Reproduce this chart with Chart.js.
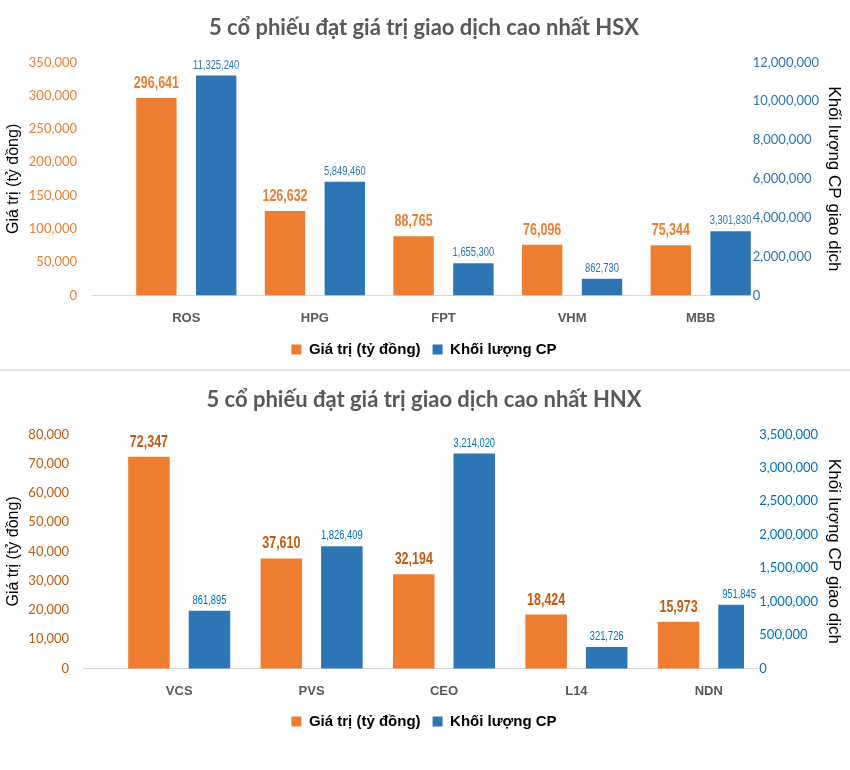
<!DOCTYPE html>
<html>
<head>
<meta charset="utf-8">
<script src="https://cdn.jsdelivr.net/npm/chart.js@4.4.1/dist/chart.umd.min.js"></script>
<style>
  body { margin: 0; background: #fff; width: 850px; height: 770px; overflow: hidden; }
  #hsx { position: absolute; left: 0; top: 0; }
  #sep { position: absolute; left: 0; top: 369px; width: 850px; height: 2px; background: #e2e2e2; }
  #hnx { position: absolute; left: 0; top: 372px; }
</style>
</head>
<body>
<canvas id="hsx" width="850" height="369" style="width:850px;height:369px"></canvas>
<div id="sep"></div>
<canvas id="hnx" width="850" height="398" style="width:850px;height:398px"></canvas>
<script>
// HSX data
const hsxCodes = ["ROS", "HPG", "FPT", "VHM", "MBB"];
const hsxValue = [296641, 126632, 88765, 76096, 75344];
const hsxVolume = [11325240, 5849460, 1655300, 862730, 3301830];

// HNX data
const hnxCodes = ["VCS", "PVS", "CEO", "L14", "NDN"];
const hnxValue = [72347, 37610, 32194, 18424, 15973];
const hnxVolume = [861895, 1826409, 3214020, 321726, 951845];

const ORANGE = "#ED7D31";
const BLUE = "#2E75B6";
const SANS = "'Liberation Sans', Arial, sans-serif";

// draws the value on top of each bar (squeezed a bit, like a narrow font)
const barLabels = {
  id: "barLabels",
  beforeDatasetsDraw(chart, args, opts) {
    // baseline, a bit wider on the left than the plot like in excel
    const ctx = chart.ctx;
    const y0 = Math.round(chart.scales.y.getPixelForValue(0)) + 0.5;
    ctx.save();
    ctx.strokeStyle = "#d9d9d9";
    ctx.lineWidth = 1;
    ctx.beginPath();
    ctx.moveTo(chart.chartArea.left - opts.lineLeft, y0);
    ctx.lineTo(chart.chartArea.right - opts.lineRight, y0);
    ctx.stroke();
    ctx.restore();
  },
  afterDatasetsDraw(chart, args, opts) {
    const ctx = chart.ctx;
    chart.data.datasets.forEach((ds, i) => {
      const st = opts.styles[i];
      const meta = chart.getDatasetMeta(i);
      meta.data.forEach((bar, j) => {
        ctx.save();
        ctx.font = st.font;
        ctx.fillStyle = st.color;
        ctx.textAlign = "center";
        ctx.textBaseline = "alphabetic";
        ctx.translate(bar.x, bar.y - st.gap);
        ctx.scale(0.78, 1);
        ctx.fillText(ds.data[j].toLocaleString("en-US"), 0, 0);
        ctx.restore();
      });
    });
  }
};

function makeChart(id, s) {
  const fmt = (v) => Number(v).toLocaleString("en-US");
  return new Chart(document.getElementById(id), {
    type: "bar",
    data: {
      labels: s.codes,
      datasets: [
        { label: "Giá trị (tỷ đồng)", data: s.value, backgroundColor: ORANGE, yAxisID: "y",
          categoryPercentage: s.catPct, barPercentage: s.barPct, clip: s.clip },
        { label: "Khối lượng CP", data: s.volume, backgroundColor: BLUE, yAxisID: "y1",
          categoryPercentage: s.catPct, barPercentage: s.barPct, clip: s.clip }
      ]
    },
    options: {
      responsive: false,
      animation: false,
      devicePixelRatio: 1,
      layout: { padding: { left: 4, right: 6, top: 0, bottom: s.padBottom } },
      plugins: {
        title: {
          display: true,
          text: s.title,
          color: "#595959",
          font: { family: "Lato, 'Open Sans', sans-serif", size: 22, weight: "bold" },
          padding: { top: 15, bottom: 21 }
        },
        legend: {
          position: "bottom",
          labels: {
            color: "#000",
            boxWidth: 10,
            boxHeight: 10,
            padding: 12,
            font: { family: SANS, size: 15, weight: "bold" }
          }
        },
        tooltip: { enabled: false },
        barLabels: {
          lineLeft: s.lineLeft,
          lineRight: s.lineRight,
          styles: [
            { font: "bold 16px " + SANS, color: s.valueLabelColor, gap: 10 },
            { font: "12px " + SANS, color: s.volumeTickColor, gap: 7 }
          ]
        }
      },
      scales: {
        x: {
          grid: { display: false, drawTicks: false },
          border: { display: false },
          afterFit: (sc) => { sc.height -= s.xShrink; },
          ticks: { color: "#595959", padding: 15, font: { family: SANS, size: 13, weight: "bold" } }
        },
        y: {
          position: "left",
          min: 0, max: s.valueMax,
          grid: { display: false, drawTicks: false },
          border: { display: false },
          afterFit: (sc) => { sc.width = s.leftW; },
          ticks: { stepSize: s.valueStep, color: s.valueTickColor, padding: s.leftPad, callback: fmt,
                   font: { family: "Lato, sans-serif", size: 13 } },
          title: { display: true, text: "Giá trị (tỷ đồng)", color: "#000", padding: 0,
                   font: { family: SANS, size: 16 } }
        },
        y1: {
          position: "right",
          min: 0, max: s.volumeMax,
          grid: { display: false, drawTicks: false },
          border: { display: false },
          afterFit: (sc) => { sc.width = s.rightW; },
          // mirrored so the labels may sit a little inside the plot, left aligned
          ticks: { stepSize: s.volumeStep, color: s.volumeTickColor, padding: s.rightPad, callback: fmt,
                   mirror: true, crossAlign: "far",
                   font: { family: "Lato, sans-serif", size: 13 } },
          title: { display: true, text: "Khối lượng CP giao dịch", color: "#000", padding: 0,
                   font: { family: SANS, size: 17 } }
        }
      }
    },
    plugins: [barLabels]
  });
}

makeChart("hsx", {
  title: "5 cổ phiếu đạt giá trị giao dịch cao nhất HSX",
  codes: hsxCodes, value: hsxValue, volume: hsxVolume,
  valueMax: 350000, valueStep: 50000, volumeMax: 12000000, volumeStep: 2000000,
  valueTickColor: ORANGE, valueLabelColor: ORANGE, volumeTickColor: BLUE,
  leftW: 118, leftPad: 45, rightW: 79, rightPad: 54,
  catPct: 0.93, barPct: 0.675, clip: undefined, padBottom: 2, xShrink: 11,
  lineLeft: 30, lineRight: 15
});

makeChart("hnx", {
  title: "5 cổ phiếu đạt giá trị giao dịch cao nhất HNX",
  codes: hnxCodes, value: hnxValue, volume: hnxVolume,
  valueMax: 80000, valueStep: 10000, volumeMax: 3500000, volumeStep: 500000,
  valueTickColor: "#C55A11", valueLabelColor: "#C55A11", volumeTickColor: "#0070C0",
  leftW: 109, leftPad: 44, rightW: 69, rightPad: 43,
  catPct: 0.914, barPct: 0.686, clip: { left: false, top: false, right: -31, bottom: false },
  padBottom: 31, xShrink: 12, lineLeft: 30, lineRight: 17
});
</script>
</body>
</html>
